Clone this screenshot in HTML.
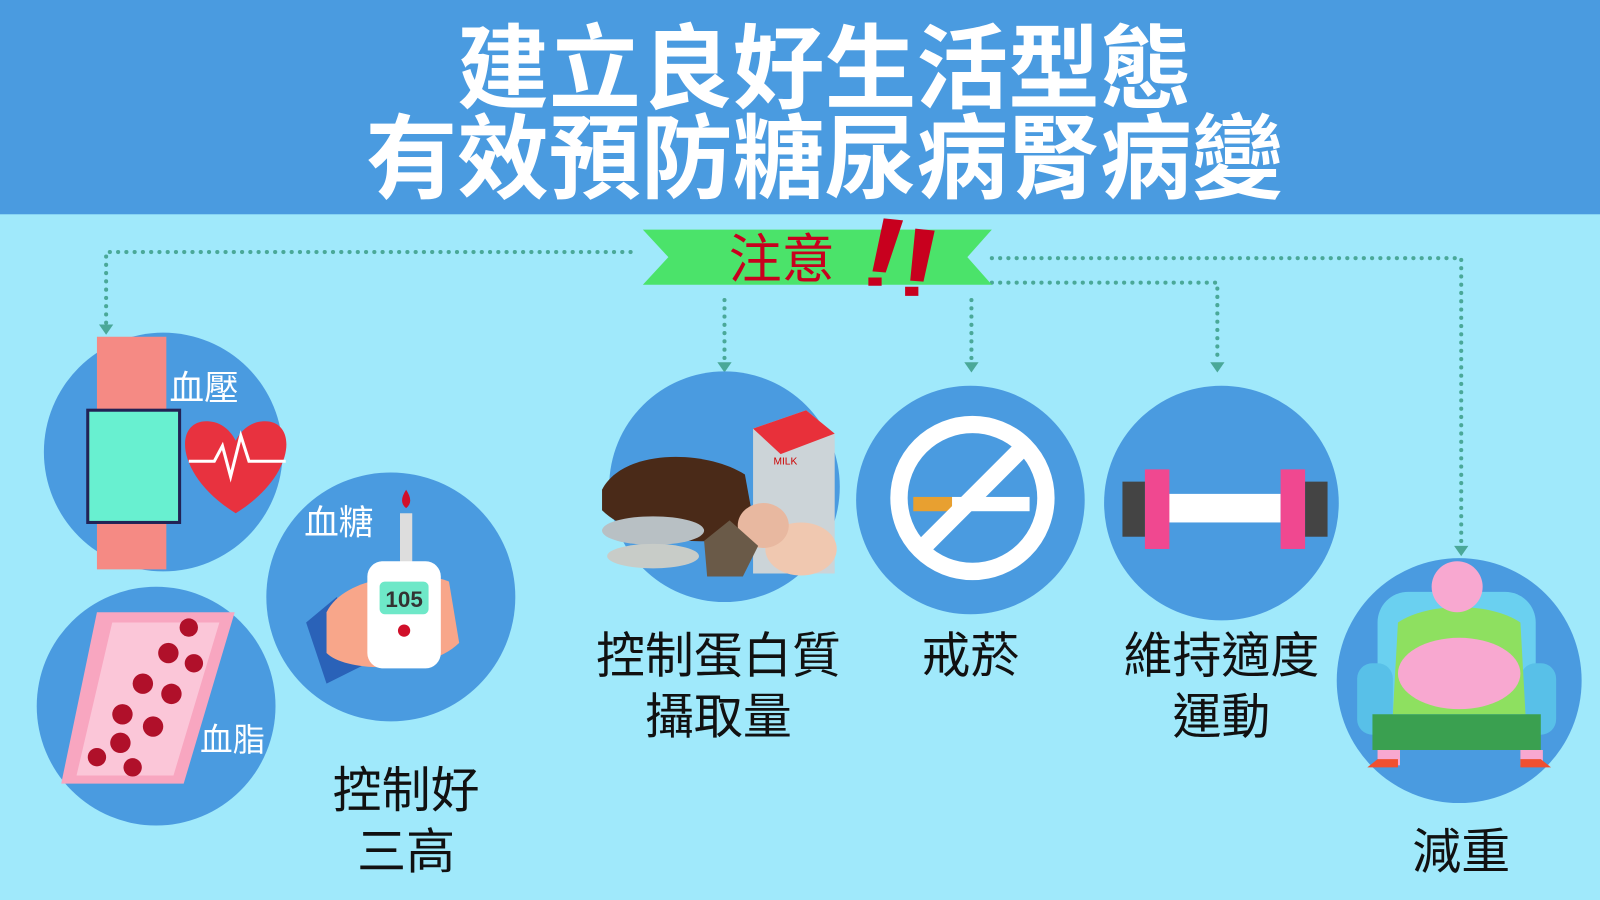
<!DOCTYPE html>
<html><head><meta charset="utf-8"><style>
html,body{margin:0;padding:0;background:#a0e9fb;}
svg{display:block}
text{font-family:"Liberation Sans","Noto Sans CJK TC",sans-serif;}
</style></head><body>
<svg width="1600" height="900" viewBox="0 0 1568 882" xmlns="http://www.w3.org/2000/svg">
<rect width="1568" height="882" fill="#a0e9fb"/>
<rect width="1568" height="210" fill="#4a9be0"/>
<text x="808" y="99" font-size="90" font-weight="bold" fill="#fff" text-anchor="middle">建立良好生活型態</text>
<text x="808" y="187" font-size="90" font-weight="bold" fill="#fff" text-anchor="middle">有效預防糖尿病腎病變</text>

<g fill="none" stroke="#4aa898" stroke-width="4" stroke-dasharray="0.1 8" stroke-linecap="round">
<path d="M618 247 H104 V318"/>
<path d="M710 294 V355"/>
<path d="M952 294 V355"/>
<path d="M972 277 H1193 V355"/>
<path d="M972 253 H1432 V535"/>
</g>
<g fill="#4aa898">
<path d="M97 318 h14 l-7 10z"/><path d="M703 355 h14 l-7 10z"/><path d="M945 355 h14 l-7 10z"/><path d="M1186 355 h14 l-7 10z"/><path d="M1425 535 h14 l-7 10z"/>
</g>

<g>
<path d="M630 225 H972 L948 252 L972 279 H630 L655 252 Z" fill="#4be36a"/>
<text x="766" y="272" font-size="52" fill="#c8001e" text-anchor="middle">注意</text>
<path d="M866 214 L885 216 L868 267 L855 266Z M851 272 h13 v8 h-13z" fill="#c8001e"/>
<path d="M897 224 L916 226 L905 276 L892 275Z M887 281 h13 v9 h-13z" fill="#c8001e"/>
</g>

<g>
<circle cx="160" cy="443" r="117" fill="#4a9be0"/>
<path d="M95 330 h68 v228 h-68z" fill="#f58a84"/>
<rect x="86" y="402" width="90" height="110" fill="#68f0d0" stroke="#225" stroke-width="3"/>
<path d="M231 503 C170 465 170 410 205 413 C220 414 228 426 231 432 C234 426 242 414 257 413 C292 410 292 465 231 503Z" fill="#e8323f"/>
<path d="M185 452 h25 l8 -15 l8 30 l10 -40 l8 25 h36" stroke="#fff" stroke-width="3" fill="none"/>
<text x="200" y="392" font-size="34" fill="#fff" text-anchor="middle">血壓</text>
</g>
<g>
<circle cx="153" cy="692" r="117" fill="#4a9be0"/>
<path d="M95 600 H230 L180 768 H60 Z" fill="#f8a6c0"/>
<path d="M110 610 H215 L170 760 H75Z" fill="#fbc6d8"/>
<g fill="#b0102a"><circle cx="185" cy="615" r="9"/><circle cx="165" cy="640" r="10"/><circle cx="190" cy="650" r="9"/><circle cx="140" cy="670" r="10"/><circle cx="168" cy="680" r="10"/><circle cx="120" cy="700" r="10"/><circle cx="150" cy="712" r="10"/><circle cx="118" cy="728" r="10"/><circle cx="95" cy="742" r="9"/><circle cx="130" cy="752" r="9"/></g>
<text x="228" y="736" font-size="32" fill="#fff" text-anchor="middle">血脂</text>
</g>
<g>
<circle cx="383" cy="585" r="122" fill="#4a9be0"/>
<path d="M300 610 L330 585 L360 650 L320 670Z" fill="#2a62b8"/>
<path d="M320 600 C340 560 420 560 440 570 L450 630 C420 660 340 660 320 640Z" fill="#f8a68a"/>
<rect x="392" y="503" width="12" height="50" fill="#ddd"/>
<path d="M398 480 q-8 12 0 18 q8 -6 0 -18z" fill="#d0102a"/>
<rect x="360" y="550" width="72" height="105" rx="15" fill="#fff"/>
<rect x="372" y="570" width="48" height="32" rx="5" fill="#6ee8c8"/>
<text x="396" y="595" font-size="22" font-weight="bold" fill="#333" text-anchor="middle">105</text>
<circle cx="396" cy="618" r="6" fill="#d0102a"/>
<text x="332" y="524" font-size="34" fill="#fff" text-anchor="middle">血糖</text>
</g>
<g>
<circle cx="710" cy="477" r="113" fill="#4a9be0"/>
<path d="M738 420 L790 402 L818 425 V562 H738Z" fill="#ccd4d8"/>
<path d="M738 420 L790 402 L818 425 L765 445Z" fill="#e8303a"/>
<text x="758" y="455" font-size="10" fill="#c00">MILK</text>
<path d="M590 480 C610 440 690 440 730 465 L740 520 C700 540 620 530 590 500Z" fill="#4a2a18"/>
<ellipse cx="640" cy="520" rx="50" ry="14" fill="#b8c0c4"/>
<ellipse cx="640" cy="545" rx="45" ry="12" fill="#c8ccc8"/>
<ellipse cx="785" cy="538" rx="35" ry="26" fill="#f0c8b0"/>
<ellipse cx="748" cy="515" rx="25" ry="22" fill="#e8b8a0"/>
<path d="M690 530 l25 -20 l28 25 l-15 30 l-35 0z" fill="#6a5a48"/>
</g>
<g>
<circle cx="951" cy="490" r="112" fill="#4a9be0"/>
<rect x="895" y="487" width="38" height="14" fill="#e8a030"/>
<rect x="933" y="487" width="76" height="14" fill="#fff"/>
<circle cx="953" cy="488" r="72" fill="none" stroke="#fff" stroke-width="17"/>
<line x1="1004" y1="437" x2="902" y2="539" stroke="#fff" stroke-width="17"/>
</g>
<g>
<circle cx="1197" cy="493" r="115" fill="#4a9be0"/>
<rect x="1145" y="484" width="110" height="28" fill="#fff"/>
<rect x="1122" y="460" width="24" height="78" fill="#f04890"/>
<rect x="1255" y="460" width="24" height="78" fill="#f04890"/>
<rect x="1100" y="472" width="22" height="54" fill="#444"/>
<rect x="1279" y="472" width="22" height="54" fill="#444"/>
</g>
<g>
<circle cx="1430" cy="667" r="120" fill="#4a9be0"/>
<rect x="1350" y="580" width="155" height="150" rx="30" fill="#6ad0f0"/>
<rect x="1330" y="650" width="35" height="70" rx="15" fill="#58c0e8"/>
<rect x="1490" y="650" width="35" height="70" rx="15" fill="#58c0e8"/>
<path d="M1370 610 C1400 590 1460 590 1490 610 L1495 700 H1365Z" fill="#8ee060"/>
<ellipse cx="1430" cy="660" rx="60" ry="35" fill="#f8a8d0"/>
<circle cx="1428" cy="575" r="25" fill="#f8a8d0"/>
<path d="M1345 700 H1510 V735 H1345Z" fill="#3aa050"/>
<rect x="1350" y="735" width="22" height="15" fill="#f8a8d0"/><rect x="1490" y="735" width="22" height="15" fill="#f8a8d0"/>
<path d="M1340 752 h30 v-8 h-20z M1520 752 h-30 v-8 h20z" fill="#f05030"/>
</g>

<g font-size="48" fill="#111" text-anchor="middle">
<text x="398" y="791">控制好</text>
<text x="398" y="851">三高</text>
<text x="704" y="659">控制蛋白質</text>
<text x="704" y="719">攝取量</text>
<text x="951" y="659">戒菸</text>
<text x="1197" y="659">維持適度</text>
<text x="1197" y="719">運動</text>
<text x="1432" y="851">減重</text>
</g>
</svg>
</body></html>
